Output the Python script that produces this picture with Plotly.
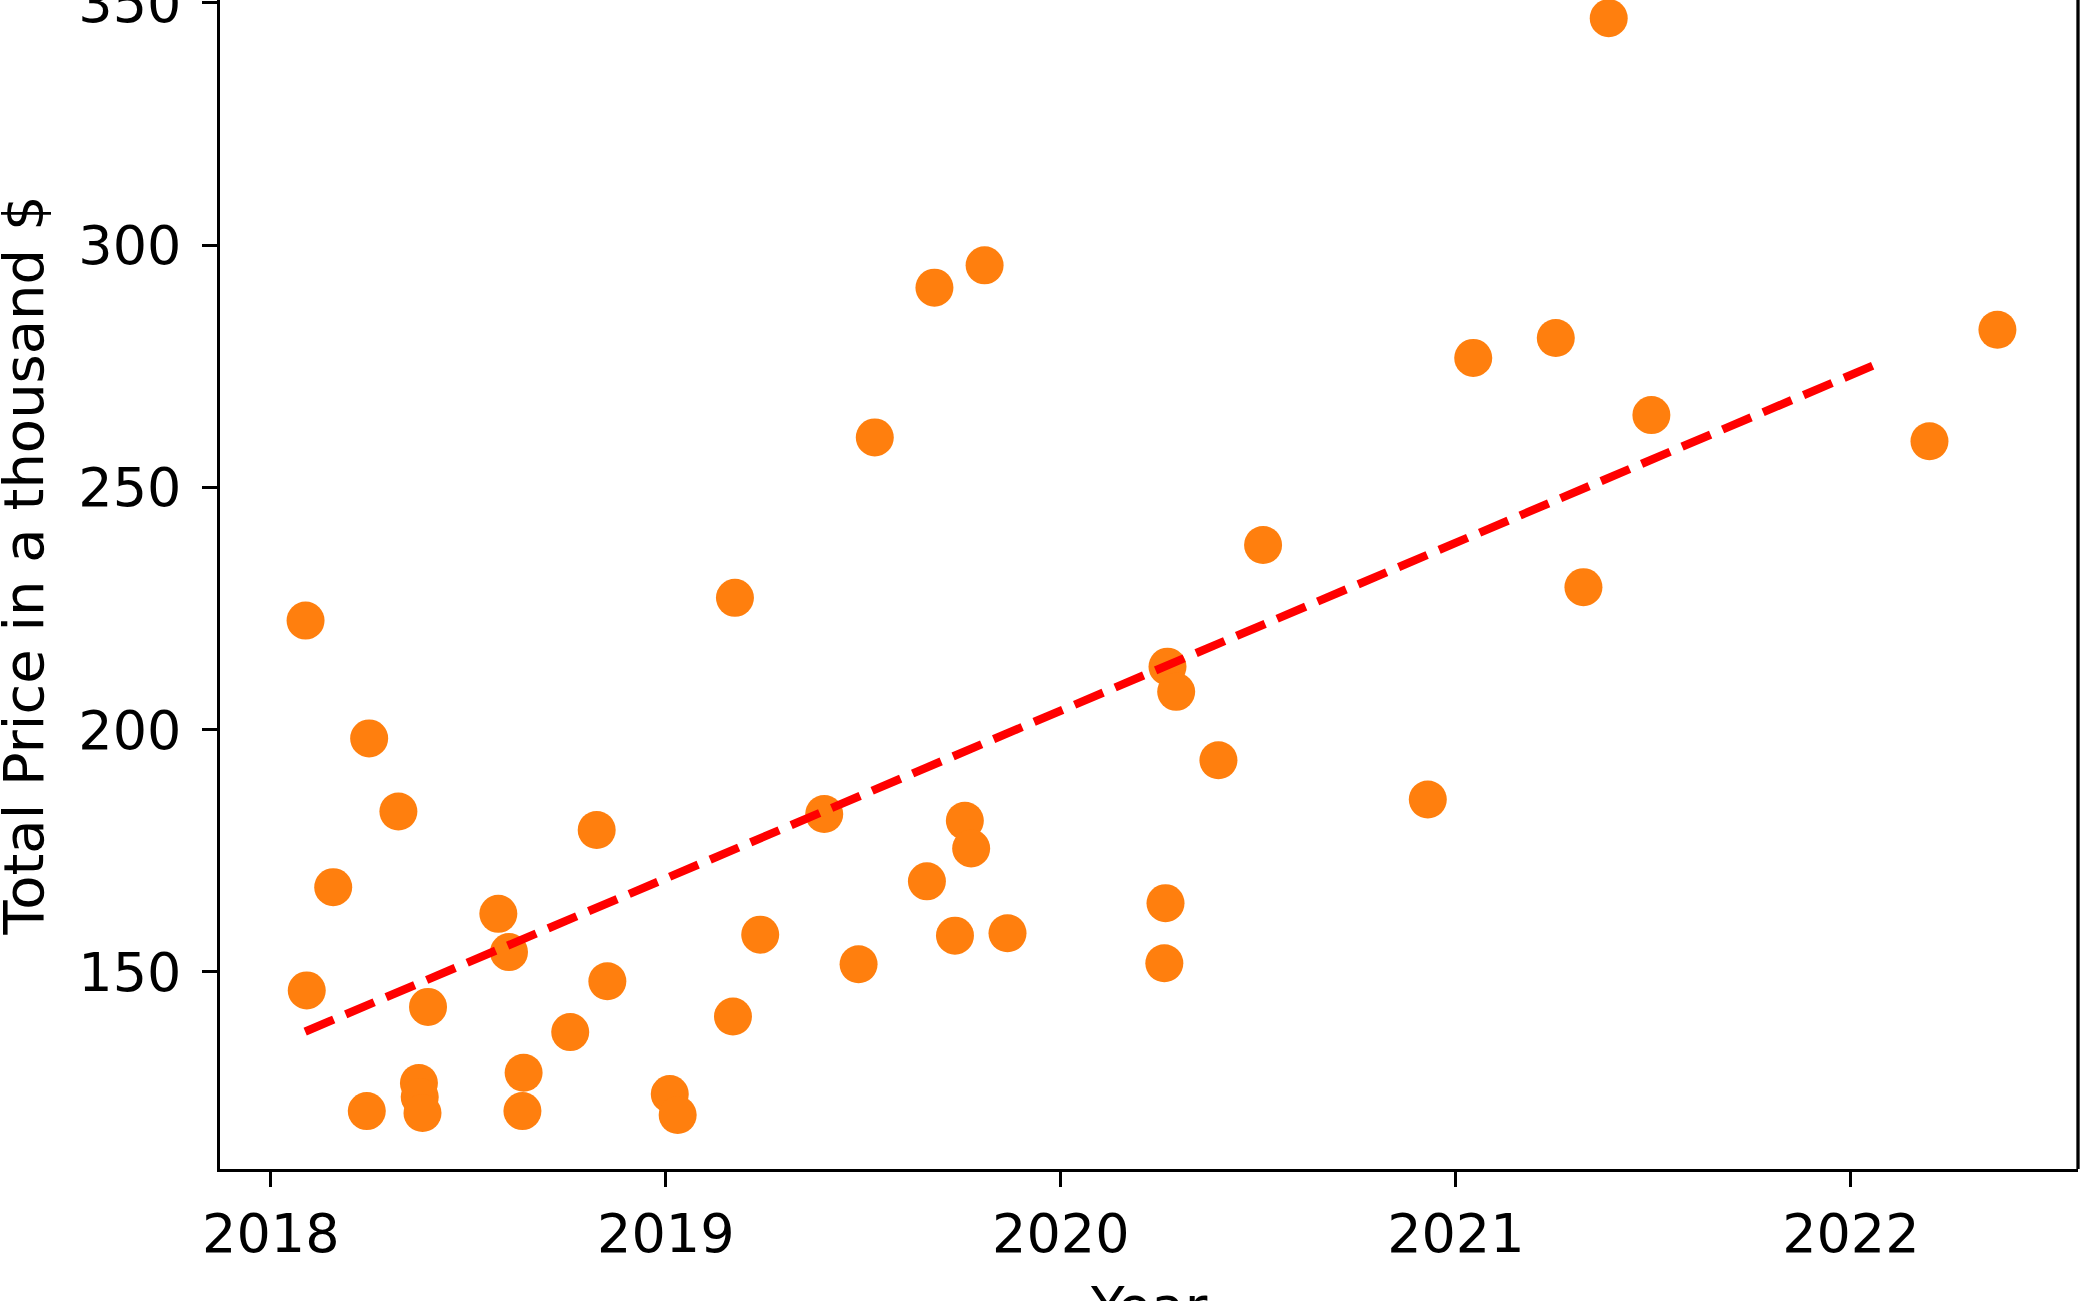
import plotly.graph_objects as go

# ---- data (decimal years, price in thousand $) ----
years = [2018.088, 2018.091, 2018.158, 2018.249, 2018.243, 2018.323, 2018.375, 2018.377,
         2018.384, 2018.398, 2018.576, 2018.603, 2018.640, 2018.637, 2018.758, 2018.825,
         2018.852, 2019.010, 2019.030, 2019.170, 2019.175, 2019.239, 2019.401, 2019.488,
         2019.529, 2019.661, 2019.680, 2019.732, 2019.757, 2019.773, 2019.807, 2019.865,
         2020.270, 2020.292, 2020.265, 2020.262, 2020.399, 2020.512, 2020.929, 2021.044,
         2021.253, 2021.323, 2021.387, 2021.495, 2022.199, 2022.371]
prices = [222.5, 146.2, 167.5, 198.2, 121.3, 183.1, 127.1, 124.2,
          120.9, 142.8, 162.0, 154.1, 129.2, 121.3, 137.6, 179.3,
          148.1, 124.8, 120.5, 140.8, 227.2, 157.7, 182.6, 151.6,
          260.3, 168.7, 291.2, 157.5, 181.2, 175.5, 295.8, 158.0,
          213.0, 207.8, 164.2, 151.8, 193.7, 238.1, 185.6, 276.7,
          280.8, 229.4, 346.8, 264.9, 259.5, 282.5]

trend_x = [2018.087, 2022.070]
trend_y = [137.7, 275.6]

x_tickvals = [2018, 2019, 2020, 2021, 2022]
x_ticktext = ["2018", "2019", "2020", "2021", "2022"]
y_tickvals = [150, 200, 250, 300, 350]
y_ticktext = ["150", "200", "250", "300", "350"]

x_title = "Year"
y_title = "Total Price in a thousand $"

FONT = "DejaVu Sans"

fig = go.Figure()
fig.add_trace(go.Scatter(
    x=years, y=prices, mode="markers",
    marker=dict(color="#ff7f0e", size=38, line=dict(width=0)),
    showlegend=False, hoverinfo="skip",
))
fig.add_trace(go.Scatter(
    x=trend_x, y=trend_y, mode="lines",
    line=dict(color="#ff0000", width=8.3, dash="31px,13px"),
    showlegend=False, hoverinfo="skip",
))

axis_common = dict(
    showgrid=False, zeroline=False, automargin=False,
    showline=True, linecolor="black", linewidth=3.3,
    ticks="outside", ticklen=14.6, tickwidth=3.3, tickcolor="black",
    tickfont=dict(family=FONT, size=54, color="black"),
    ticklabeloverflow="allow",
)

fig.update_layout(
    width=2081, height=1301,
    margin=dict(l=220, r=3, t=0, b=132, pad=0, autoexpand=False),
    paper_bgcolor="white", plot_bgcolor="white",
    xaxis=dict(range=[2017.8714, 2022.575], tickmode="array",
               tickvals=x_tickvals, ticktext=x_ticktext, **axis_common),
    yaxis=dict(range=[109.35, 350.55], tickmode="array",
               tickvals=y_tickvals, ticktext=y_ticktext,
               ticklabelstandoff=10, **axis_common),
    shapes=[dict(type="line", xref="paper", yref="paper", x0=1, x1=1, y0=0, y1=1,
                 line=dict(color="black", width=3.3))],
    annotations=[
        dict(text=x_title, xref="paper", yref="paper", x=0.5, y=-0.089,
             xanchor="center", yanchor="top", showarrow=False,
             font=dict(family=FONT, size=55, color="black")),
        dict(text=y_title, xref="paper", yref="paper", x=-0.1055, y=0.5162,
             xanchor="center", yanchor="middle", textangle=-90, showarrow=False,
             font=dict(family=FONT, size=56, color="black")),
    ],
)

fig.write_html("out.html")
